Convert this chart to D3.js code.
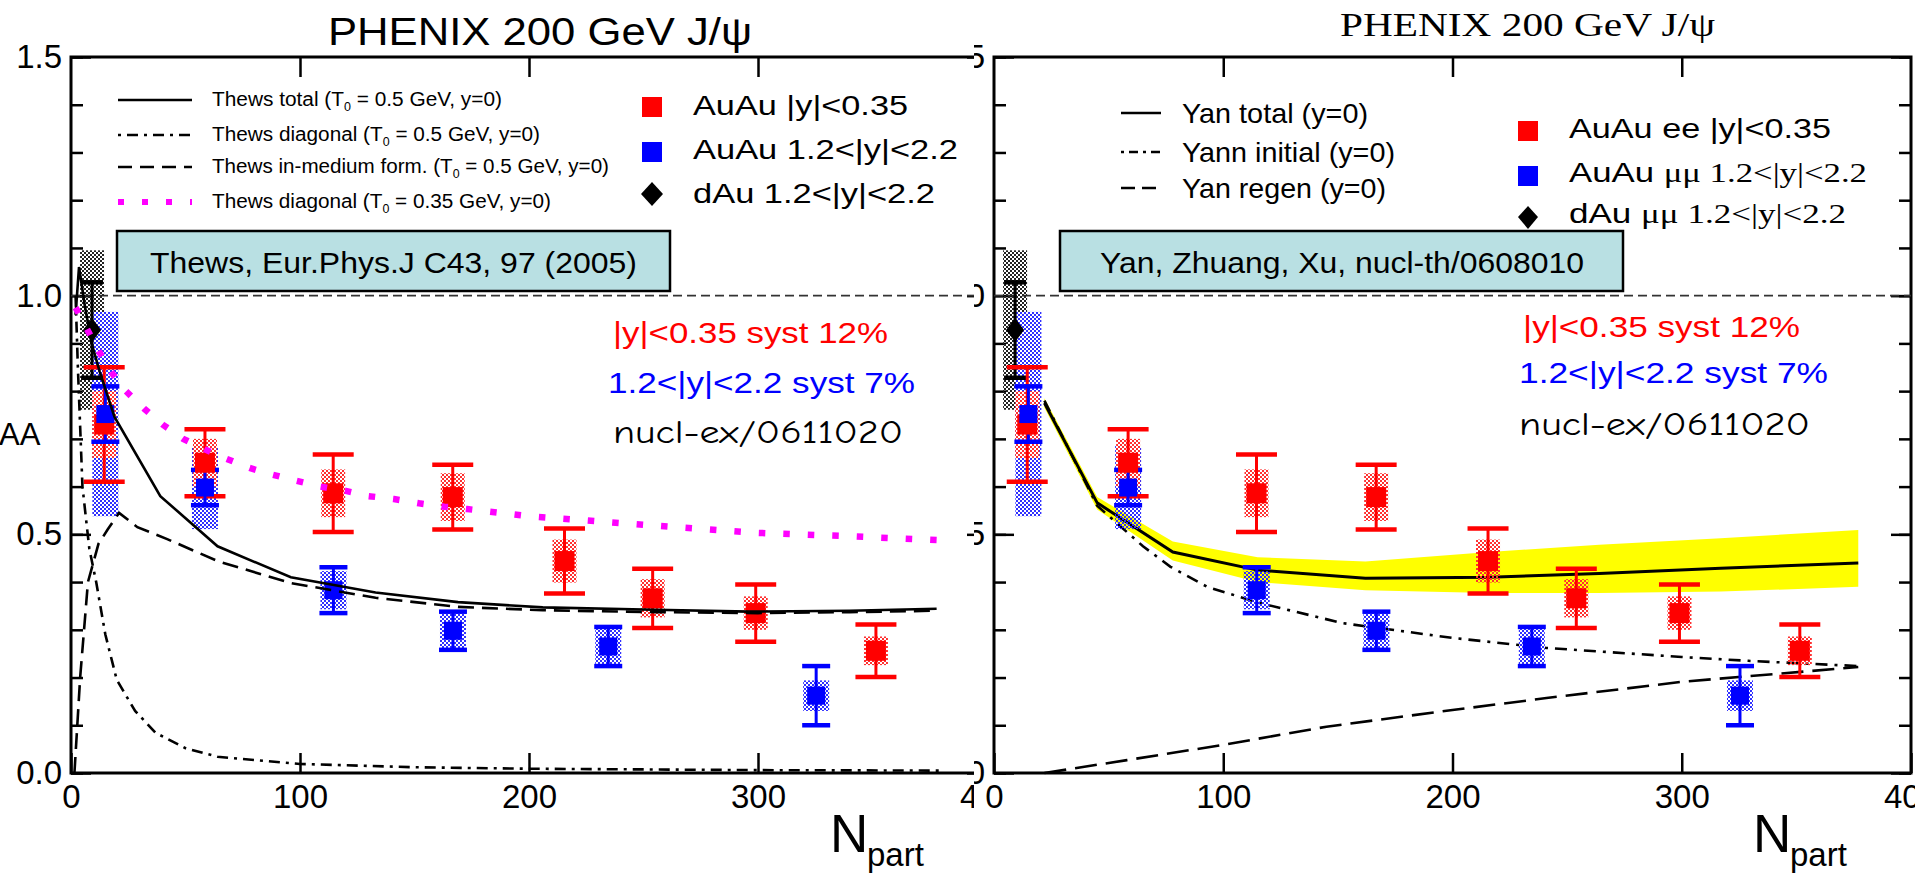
<!DOCTYPE html>
<html><head><meta charset="utf-8">
<script src="https://cdn.jsdelivr.net/npm/d3@7"></script>
<style>body{margin:0;background:#fff}svg{display:block}</style>
</head><body>
<svg id="c" width="1915" height="876"></svg>
<script>
// ---------------- data ----------------
const npartMid = [14.5, 58.5, 114.5, 166.7, 215.5, 254, 299, 351.5];
const raaMid   = [0.73, 0.65, 0.586, 0.578, 0.444, 0.366, 0.335, 0.256];
const statMid  = [0.12, 0.07, 0.081, 0.068, 0.068, 0.062, 0.06, 0.055];
const systMid  = [0.07, 0.05, 0.05, 0.05, 0.045, 0.04, 0.035, 0.03];

const npartFwd = [15, 58.5, 114.6, 166.8, 234.6, 325.4];
const raaFwd   = [0.752, 0.598, 0.383, 0.298, 0.265, 0.162];
const statFwd  = [0.058, 0.037, 0.048, 0.040, 0.041, 0.062];
const systFwd  = [0.214, 0.087, 0.04, 0.04, 0.04, 0.032];

const npartDAu = [9.2];
const raaDAu   = [0.928];
const statDAu  = [0.1];
const systDAu  = [0.167];

// Thews model curves (left panel)
const thewsTotalN = [2, 3.5, 6, 9, 12.6, 19, 39, 64, 96, 133, 169, 206, 255, 296, 340, 378];
const thewsTotalR = [0.96, 1.06, 0.98, 0.9, 0.84, 0.746, 0.58, 0.475, 0.41, 0.378, 0.358, 0.347, 0.342, 0.338, 0.34, 0.344];
const thewsDiagN  = [2, 3, 5, 8, 11, 15, 20, 28, 37, 50, 64, 100, 150, 200, 300, 380];
const thewsDiagR  = [1.0, 0.85, 0.6, 0.47, 0.40, 0.29, 0.195, 0.13, 0.084, 0.052, 0.034, 0.019, 0.012, 0.009, 0.006, 0.005];
const thewsFormN  = [1.5, 4, 7.4, 12, 16, 21, 29, 42, 64.5, 96, 133, 169, 206, 255, 300, 340, 378];
const thewsFormR  = [0.0, 0.2, 0.40, 0.48, 0.51, 0.545, 0.515, 0.49, 0.443, 0.398, 0.367, 0.348, 0.341, 0.337, 0.335, 0.337, 0.34];
const thewsDiag35N = [2, 7, 12, 17.5, 24, 32, 40, 49, 58, 68, 78, 88, 98.5, 109, 120, 130, 141, 152, 163, 173, 184, 200, 250, 300, 340, 378];
const thewsDiag35R = [0.975, 0.93, 0.885, 0.84, 0.80, 0.763, 0.73, 0.70, 0.679, 0.658, 0.639, 0.625, 0.612, 0.60, 0.591, 0.58, 0.574, 0.565, 0.558, 0.553, 0.547, 0.538, 0.52, 0.503, 0.496, 0.488];

// Yan model curves (right panel)
const yanN      = [22, 45, 78, 115, 162, 216, 264, 317, 377];
const yanTotal  = [0.775, 0.566, 0.463, 0.425, 0.408, 0.41, 0.418, 0.429, 0.44];
const yanUpper  = [0.785, 0.578, 0.485, 0.452, 0.443, 0.463, 0.478, 0.492, 0.509];
const yanLower  = [0.765, 0.552, 0.445, 0.40, 0.383, 0.377, 0.377, 0.38, 0.39];
const yanInitN  = [22, 45, 65, 77, 93, 116, 152, 200, 241, 300, 329, 377];
const yanInitR  = [0.78, 0.56, 0.475, 0.432, 0.39, 0.356, 0.314, 0.283, 0.262, 0.243, 0.235, 0.224];
const yanRegenN = [22, 58, 100, 145, 200, 241, 300, 377];
const yanRegenR = [0.0, 0.027, 0.059, 0.097, 0.132, 0.157, 0.191, 0.222];

const xTicks = [0, 100, 200, 300, 400];
const yTicks = [0, 0.5, 1.0, 1.5];
const yMinor = d3.range(0, 1.51, 0.1);

// ---------------- drawing ----------------
const SANS = "'Liberation Sans', Arial, Helvetica, sans-serif";
const SERIF = "'Liberation Serif', 'Times New Roman', serif";
const COMIC = "'Comic Sans MS', 'Comic Neue', 'DejaVu Sans', sans-serif";
const RED = "#ff0000", BLUE = "#0000ff", MAG = "#ff00ff";

const svg = d3.select("#c");
const defs = svg.append("defs");
function checker(id, color) {
  const p = defs.append("pattern").attr("id", id).attr("width", 4).attr("height", 4)
    .attr("patternUnits", "userSpaceOnUse");
  p.append("rect").attr("width", 2).attr("height", 2).attr("fill", color);
  p.append("rect").attr("x", 2).attr("y", 2).attr("width", 2).attr("height", 2).attr("fill", color);
}
checker("hRed", "#ff3030");
checker("hBlue", "#3030ff");
checker("hGrey", "#222");
defs.append("clipPath").attr("id", "clipL").append("rect").attr("x", 0).attr("y", 0).attr("width", 974).attr("height", 876);
defs.append("clipPath").attr("id", "clipR").append("rect").attr("x", 974).attr("y", 0).attr("width", 941).attr("height", 876);

const y = d3.scaleLinear().domain([0, 1.5]).range([773, 57]);

function fitText(g, str, x, yb, w, size, fam, col, anchor) {
  const t = g.append("text").attr("x", x).attr("y", yb).attr("font-size", size)
    .attr("font-family", fam).attr("fill", col || "#000").text(str);
  if (anchor) t.attr("text-anchor", anchor);
  if (w) t.attr("textLength", w).attr("lengthAdjust", "spacingAndGlyphs");
  return t;
}

function drawPanel(g, x) {
  const x0 = x.range()[0], x1 = x.range()[1];
  // ticks (inward)
  const yMaj = d3.axisLeft(y).tickValues(yTicks).tickSizeInner(-20).tickSizeOuter(0)
    .tickPadding(9).tickFormat(d3.format(".1f"));
  const ga = g.append("g").attr("transform", `translate(${x0},0)`).call(yMaj);
  const yMin = d3.axisLeft(y).tickValues(yMinor).tickSizeInner(-12).tickSizeOuter(0).tickFormat("");
  const gb = g.append("g").attr("transform", `translate(${x0},0)`).call(yMin);
  const yMinRt = d3.axisRight(y).tickValues(yMinor).tickSizeInner(-12).tickSizeOuter(0).tickFormat("");
  const gc = g.append("g").attr("transform", `translate(${x1},0)`).call(yMinRt);
  const yMajRt = d3.axisRight(y).tickValues(yTicks).tickSizeInner(-20).tickSizeOuter(0).tickFormat("");
  const gc2 = g.append("g").attr("transform", `translate(${x1},0)`).call(yMajRt);
  const xB = d3.axisBottom(x).tickValues(xTicks).tickSizeInner(-20).tickSizeOuter(0).tickPadding(12);
  const gd = g.append("g").attr("transform", `translate(0,${y(0)})`).call(xB);
  const xT = d3.axisTop(x).tickValues([100, 200, 300]).tickSizeInner(-20).tickSizeOuter(0).tickFormat("");
  const ge = g.append("g").attr("transform", `translate(0,${y(1.5)})`).call(xT);
  [ga, gb, gc, gc2, gd, ge].forEach(a => {
    a.select(".domain").remove();
    a.selectAll("line").attr("stroke", "#000").attr("stroke-width", 2.5);
    a.selectAll("text").attr("font-size", 33).attr("font-family", SANS).attr("fill", "#000");
  });
  // frame
  g.append("rect").attr("x", x0).attr("y", y(1.5)).attr("width", x1 - x0).attr("height", y(0) - y(1.5))
    .attr("fill", "none").attr("stroke", "#000").attr("stroke-width", 3);
  // unity line
  g.append("line").attr("x1", x(0)).attr("x2", x1).attr("y1", y(1)).attr("y2", y(1))
    .attr("stroke", "#333").attr("stroke-width", 1.6).attr("stroke-dasharray", "9,5");
  // N_part label
  const xl = g.append("text").attr("font-family", SANS).attr("fill", "#000");
  xl.append("tspan").attr("x", x(0) + 759).attr("y", 852).attr("font-size", 53).text("N");
  xl.append("tspan").attr("x", x(0) + 796).attr("y", 866).attr("font-size", 33).text("part");
}

function drawData(g, x) {
  // systematic boxes
  const box = (N, R, S, w, fill) => g.append("g").selectAll("rect").data(d3.range(N.length)).join("rect")
    .attr("x", i => x(N[i]) - w / 2).attr("width", w)
    .attr("y", i => y(R[i] + S[i])).attr("height", i => y(R[i] - S[i]) - y(R[i] + S[i]))
    .attr("fill", fill);
  box(npartDAu, raaDAu, systDAu, 24, "url(#hGrey)");
  box(npartFwd, raaFwd, systFwd, 26, "url(#hBlue)");
  box(npartMid, raaMid, systMid, 24, "url(#hRed)");
  // error bars
  const bars = (N, R, E, cap, col, sw) => {
    const gg = g.append("g").attr("stroke", col).attr("stroke-width", sw).attr("fill", "none");
    N.forEach((n, i) => {
      const cx = x(n);
      gg.append("line").attr("x1", cx).attr("x2", cx).attr("y1", y(R[i] + E[i])).attr("y2", y(R[i] - E[i]));
      [R[i] + E[i], R[i] - E[i]].forEach(v =>
        gg.append("line").attr("x1", cx - cap / 2).attr("x2", cx + cap / 2).attr("y1", y(v)).attr("y2", y(v))
          .attr("stroke-width", sw + 1.5));
    });
  };
  bars(npartDAu, raaDAu, statDAu, 22, "#000", 3);
  bars(npartMid, raaMid, statMid, 41, RED, 3);
  bars(npartFwd, raaFwd, statFwd, 28, BLUE, 3);
  // markers
  g.append("g").selectAll("rect").data(d3.range(npartMid.length)).join("rect")
    .attr("x", i => x(npartMid[i]) - 10).attr("y", i => y(raaMid[i]) - 10).attr("width", 20).attr("height", 20).attr("fill", RED);
  g.append("g").selectAll("rect").data(d3.range(npartFwd.length)).join("rect")
    .attr("x", i => x(npartFwd[i]) - 9).attr("y", i => y(raaFwd[i]) - 9).attr("width", 18).attr("height", 18).attr("fill", BLUE);
  g.append("g").selectAll("path").data(d3.range(npartDAu.length)).join("path")
    .attr("d", i => { const cx = x(npartDAu[i]), cy = y(raaDAu[i]); return `M${cx},${cy - 12}L${cx + 9},${cy}L${cx},${cy + 12}L${cx - 9},${cy}Z`; })
    .attr("fill", "#000");
}

const line = (x) => d3.line().x(d => x(d[0])).y(d => y(d[1]));

// ---------- LEFT PANEL ----------
const xL = d3.scaleLinear().domain([0, 400]).range([71, 987]);
const gL = svg.append("g").attr("clip-path", "url(#clipL)");
drawPanel(gL, xL);
drawData(gL, xL);
const lc = gL.append("g").attr("fill", "none").attr("stroke", "#000");
lc.append("path").attr("d", line(xL)(d3.zip(thewsTotalN, thewsTotalR))).attr("stroke-width", 2.6);
lc.append("path").attr("d", line(xL)(d3.zip(thewsDiagN, thewsDiagR))).attr("stroke-width", 2.6).attr("stroke-dasharray", "11,6,3,6");
lc.append("path").attr("d", line(xL)(d3.zip(thewsFormN, thewsFormR))).attr("stroke-width", 2.6).attr("stroke-dasharray", "16,8");
lc.append("path").attr("d", line(xL)(d3.zip(thewsDiag35N, thewsDiag35R))).attr("stroke", MAG).attr("stroke-width", 6.5).attr("stroke-dasharray", "6.5,18");

// left title
fitText(gL, "PHENIX 200 GeV J/\u03c8", 328, 45, 424, 38, SANS);
// y label (R clipped off)
const yl = gL.append("text").attr("font-family", SANS).attr("fill", "#000");
yl.append("tspan").attr("x", -34).attr("y", 430).attr("font-size", 46).text("R");
yl.append("tspan").attr("x", -1).attr("y", 445).attr("font-size", 31).text("AA");

// left legend (lines)
const legL = [
  ["Thews total (T", " = 0.5 GeV, y=0)", 100, null, 290, "#000", 2.4],
  ["Thews diagonal (T", " = 0.5 GeV, y=0)", 135, "3,6,11,6", 328, "#000", 2.4],
  ["Thews in-medium form. (T", " = 0.5 GeV, y=0)", 167, "14,8", 397, "#000", 2.4],
  ["Thews diagonal (T", " = 0.35 GeV, y=0)", 202, "6,18", 339, MAG, 6]
];
legL.forEach(([a, b, ry, dash, w, col, sw]) => {
  const l = gL.append("line").attr("x1", 118).attr("x2", 192).attr("y1", ry).attr("y2", ry)
    .attr("stroke", col).attr("stroke-width", sw);
  if (dash) l.attr("stroke-dasharray", dash);
  const t = gL.append("text").attr("x", 212).attr("y", ry + 6).attr("font-size", 20).attr("font-family", SANS)
    .attr("textLength", w).attr("lengthAdjust", "spacingAndGlyphs");
  t.append("tspan").text(a);
  t.append("tspan").attr("font-size", 12).attr("dy", 5).text("0");
  t.append("tspan").attr("dy", -5).text(b);
});
// left legend (markers)
gL.append("rect").attr("x", 642).attr("y", 97).attr("width", 20).attr("height", 20).attr("fill", RED);
gL.append("rect").attr("x", 642).attr("y", 142).attr("width", 20).attr("height", 20).attr("fill", BLUE);
gL.append("path").attr("d", "M652,182L663,194L652,206L641,194Z").attr("fill", "#000");
fitText(gL, "AuAu |y|<0.35", 693, 115, 215, 28, SANS);
fitText(gL, "AuAu 1.2<|y|<2.2", 693, 159, 265, 28, SANS);
fitText(gL, "dAu 1.2<|y|<2.2", 693, 203, 242, 28, SANS);
// reference box
gL.append("rect").attr("x", 117).attr("y", 231).attr("width", 553).attr("height", 60)
  .attr("fill", "#b9e0e3").attr("stroke", "#000").attr("stroke-width", 2.5);
fitText(gL, "Thews, Eur.Phys.J C43, 97 (2005)", 150, 273, 487, 30, SANS);
// annotations
fitText(gL, "|y|<0.35 syst 12%", 613, 343, 275, 30, SANS, RED);
fitText(gL, "1.2<|y|<2.2 syst 7%", 608, 393, 307, 30, SANS, BLUE);
fitText(gL, "nucl-ex/0611020", 613, 443, 290, 33, COMIC);

// ---------- RIGHT PANEL ----------
const xR = d3.scaleLinear().domain([0, 400]).range([994, 1911]);
const gR = svg.append("g").attr("clip-path", "url(#clipR)");
gR.append("rect").attr("x", 974).attr("y", 0).attr("width", 941).attr("height", 876).attr("fill", "#fff");
// yellow band
gR.append("path").attr("d", d3.area().x(d => xR(d[0])).y0(d => y(d[1])).y1(d => y(d[2]))(d3.zip(yanN, yanLower, yanUpper)))
  .attr("fill", "#ffff00");
drawPanel(gR, xR);
const rc = gR.append("g").attr("fill", "none").attr("stroke", "#000");
rc.append("path").attr("d", line(xR)(d3.zip(yanN, yanTotal))).attr("stroke-width", 3);
rc.append("path").attr("d", line(xR)(d3.zip(yanInitN, yanInitR))).attr("stroke-width", 2.6).attr("stroke-dasharray", "12,7,3,7");
rc.append("path").attr("d", line(xR)(d3.zip(yanRegenN, yanRegenR))).attr("stroke-width", 2.6).attr("stroke-dasharray", "22,9");
drawData(gR, xR);

fitText(gR, "PHENIX 200 GeV J/\u03c8", 1340, 36, 375, 33, SERIF);
// right legend (lines)
const legR = [["Yan total (y=0)", 113, null, 186], ["Yann initial (y=0)", 152, "3,5,9,5", 213], ["Yan regen (y=0)", 188, "14,7", 204]];
legR.forEach(([s, ry, dash, w]) => {
  const l = gR.append("line").attr("x1", 1121).attr("x2", 1161).attr("y1", ry).attr("y2", ry)
    .attr("stroke", "#000").attr("stroke-width", 2.4);
  if (dash) l.attr("stroke-dasharray", dash);
  fitText(gR, s, 1182, ry + 10, w, 28, SANS);
});
gR.append("rect").attr("x", 1518).attr("y", 121).attr("width", 20).attr("height", 20).attr("fill", RED);
gR.append("rect").attr("x", 1518).attr("y", 166).attr("width", 20).attr("height", 20).attr("fill", BLUE);
gR.append("path").attr("d", "M1528,206L1538,217L1528,229L1518,217Z").attr("fill", "#000");
fitText(gR, "AuAu ee |y|<0.35", 1569, 138, 262, 28, SANS);
const t2 = gR.append("text").attr("x", 1569).attr("y", 182).attr("font-size", 28).attr("textLength", 298).attr("lengthAdjust", "spacingAndGlyphs");
t2.append("tspan").attr("font-family", SANS).text("AuAu ");
t2.append("tspan").attr("font-family", SERIF).text("\u03bc\u03bc 1.2<|y|<2.2");
const t3 = gR.append("text").attr("x", 1569).attr("y", 223).attr("font-size", 28).attr("textLength", 277).attr("lengthAdjust", "spacingAndGlyphs");
t3.append("tspan").attr("font-family", SANS).text("dAu ");
t3.append("tspan").attr("font-family", SERIF).text("\u03bc\u03bc 1.2<|y|<2.2");
gR.append("rect").attr("x", 1060).attr("y", 231).attr("width", 563).attr("height", 60)
  .attr("fill", "#b9e0e3").attr("stroke", "#000").attr("stroke-width", 2.5);
fitText(gR, "Yan, Zhuang, Xu, nucl-th/0608010", 1100, 273, 484, 30, SANS);
fitText(gR, "|y|<0.35 syst 12%", 1523, 337, 277, 30, SANS, RED);
fitText(gR, "1.2<|y|<2.2 syst 7%", 1519, 383, 309, 30, SANS, BLUE);
fitText(gR, "nucl-ex/0611020", 1519, 435, 291, 33, COMIC);
</script>
</body></html>
